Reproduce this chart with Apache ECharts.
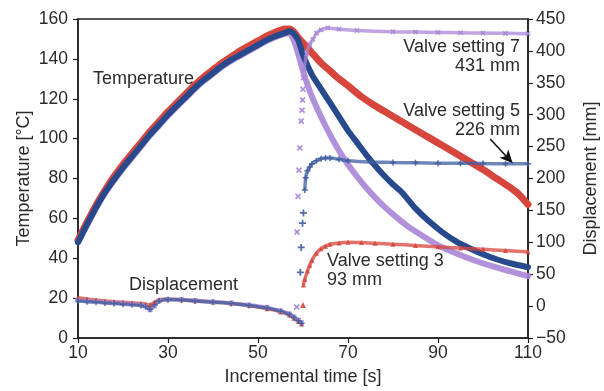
<!DOCTYPE html>
<html>
<head>
<meta charset="utf-8">
<script src="https://cdn.jsdelivr.net/npm/echarts@6/dist/echarts.min.js"></script>
<style>
  html, body { margin: 0; padding: 0; background: #fff; }
  #chart { width: 604px; height: 391px; }
</style>
</head>
<body>
<div id="chart"></div>
<script>
// ---- Temperature (left axis, °C) ----
const tempTimeV3 = [10,12,14,16,18,20,22,24,26,28,30,32,34,36,38,40,42,44,46,48,50,52,54,56,57,58,59,60,62,64,66,68,70,73,76,79,82,85,88,91,94,97,100,103,106,108,110];
const tempV3     = [49,58,66.5,74,81,87,92.5,98,103.5,108.5,113.5,118,122.5,127,131,134.5,138,141,144,146.5,149,151.5,153.5,155,155,153.5,150.5,148,143,138,134,130,126.5,121,116.5,112.5,108.5,104.5,100.5,96.5,92.5,88.5,84.5,80,75.5,72,67];

const tempTimeV5 = [10,12,14,16,18,20,22,24,26,28,30,32,34,36,38,40,42,44,46,48,50,52,54,56,57,58,59,60,62,64,66,68,70,72,74,76,78,80,82,85,88,91,94,97,100,103,106,110];
const tempV5     = [48,57,65.5,73,79.5,85.5,91,96.5,102,107,112,116.5,121,125.5,129.5,133,136.5,139.5,142,144.5,147,149.5,151.5,153,153.8,152.5,149,142,132,125,118,111,104,98,92,86.5,81.5,77,73,65,58.5,53,48.5,45,42,39.5,37.5,35.5];

const tempTimeV7 = [10,12,14,16,18,20,22,24,26,28,30,32,34,36,38,40,42,44,46,48,50,52,54,56,57,58,59,60,61,62,64,66,68,70,72,74,76,78,80,83,86,90,94,98,102,106,110];
const tempV7     = [48,56.5,65,72.5,79,85,90.5,96,101.5,106.5,111.5,116,120.5,125,129,132.5,136,139,141.5,144,146.5,149,151,152.5,153,149,142,134,127,121,111,102,94,87,81,75.5,70.5,66,62,56.5,52,46.5,42.5,39,36,33.5,31];

// ---- Displacement (right axis, mm) : before the valve opens ----
const dispPreTime = [10,12,14,16,18,20,22,24,25,26,27,28,30,33,36,40,44,48,52,55,57,58,59,59.7];
const dispPreV3   = [13,11,9.5,8,7,6,5,4,3,2,6,10,11,10,8.5,6.5,4.5,1,-4,-9,-14,-19,-24,-28];
const dispPreV5   = [8,7,6,5,4,3,2,1,-1,-5,2,8,10,9.5,8,6,4,1,-3,-8,-13,-18,-23,-27];
const dispPreV7   = [9,8,7,6,5,4,3,2,0,-6,0,8,11,10.5,9,7,5,2,-2,-7,-12,-17,-22,-26];

// ---- Displacement : isolated readings while the valve opens ----
const dispJumpTimeV3 = [60.0];
const dispJumpV3     = [1.7];
const dispJumpTimeV5 = [59.4,59.6,59.9,60.1];
const dispJumpV5     = [53,92,130,146];
const dispJumpTimeV7 = [58.6,58.7,58.9,59.1,59.3,59.6,59.8,59.9,60.0,60.1];
const dispJumpV7     = [-1.5,116,172,213,248,290,307,323,340,358];

// ---- Displacement : after the valve opens ----
const dispPostTimeV3 = [60.1,60.4,61,61.5,62,63,64,65,66,68,70,73,76,80,85,90,95,100,105,110];
const dispPostV3     = [33,42,55,64,72,83,90,94,97,99,100,99.5,98.5,97,95,93,91,89,87,85];
const dispPostTimeV5 = [60.4,60.6,61,61.5,62,63,64,65,66,68,70,75,80,85,90,95,100,105,110];
const dispPostV5     = [182,201,212,218,223,228,231,232,232,230,228,226,225,224.5,224,224,223.5,223,223];
const dispPostTimeV7 = [60.2,60.8,61.5,62.2,63,64,65.5,68,72,80,85,90,95,100,105,110];
const dispPostV7     = [370,395,410,418,428,433,436,434,432,430,429.5,429,428.5,428,427.5,427];

// ---- Axis ticks ----
const xTicks = [10,30,50,70,90,110];

const FONT = 'Liberation Sans, Arial, Helvetica, sans-serif';
const INK = '#2b2b2b';
const RED = '#d6463c';
const BLUE = '#284a8c';
const BLUE_MARK = '#3f5f9f';
const PURPLE = '#a886d6';

const PLUS = 'path://M3,0H5V3H8V5H5V8H3V5H0V3H3Z';

const pairs = (ts, vs) => ts.map((t, i) => [t, vs[i]]);

const chart = echarts.init(document.getElementById('chart'), null, { renderer: 'canvas' });

const tempLine = (name, ts, vs, color, width, z, opacity) => ({
  name, type: 'line', yAxisIndex: 0, data: pairs(ts, vs),
  showSymbol: false, smooth: 0.2, z,
  lineStyle: { color, width, opacity: opacity ?? 1, cap: 'round', join: 'round' }
});

const dispLine = (name, ts, vs, color, symbol, size, rotate, z) => ({
  name, type: 'line', yAxisIndex: 1, data: pairs(ts, vs),
  smooth: 0.2, z,
  symbol, symbolSize: size, symbolRotate: rotate || 0, showSymbol: true,
  itemStyle: { color, opacity: 0.9 },
  lineStyle: { color, width: 3.5, opacity: 0.75 }
});

const dispScatter = (name, ts, vs, color, symbol, size, rotate, z) => ({
  name, type: 'scatter', yAxisIndex: 1, data: pairs(ts, vs), z,
  symbol, symbolSize: size, symbolRotate: rotate || 0,
  itemStyle: { color, opacity: 0.9 }
});

const blueAfter = dispLine('Displacement V5 after', dispPostTimeV5, dispPostV5, BLUE_MARK, PLUS, 6, 0, 6);
blueAfter.markLine = {
  silent: true,
  symbol: ['none', 'arrow'],
  symbolSize: [9, 13],
  label: { show: false },
  lineStyle: { color: '#111', width: 1.6, type: 'solid' },
  data: [[{ coord: [101.6, 262] }, { coord: [106.6, 224] }]]
};

const labelFont = '18px ' + FONT;

const option = {
  animation: false,
  backgroundColor: '#fff',
  textStyle: { fontFamily: FONT },
  grid: {
    left: 78, right: 76, top: 19, bottom: 53,
    outerBoundsMode: 'none',
    show: true, borderColor: '#222', borderWidth: 1.5, backgroundColor: 'transparent'
  },
  xAxis: {
    type: 'value', min: 10, max: 110,
    name: 'Incremental time [s]', nameLocation: 'middle', nameGap: 30, nameMoveOverlap: false,
    nameTextStyle: { color: INK, fontSize: 18, fontFamily: FONT },
    axisLine: { show: true, lineStyle: { color: '#222', width: 1.6 } },
    axisTick: { show: true, customValues: xTicks, length: 5, lineStyle: { color: '#222', width: 1.2 } },
    axisLabel: { customValues: xTicks, margin: 6, fontSize: 17.5, color: INK, fontFamily: FONT },
    splitLine: { show: false }
  },
  yAxis: [
    {
      type: 'value', min: 0, max: 160, interval: 20, position: 'left',
      name: 'Temperature [°C]', nameLocation: 'middle', nameGap: 45, nameRotate: 90, nameMoveOverlap: false,
      nameTextStyle: { color: INK, fontSize: 18, fontFamily: FONT },
      axisLine: { show: true, lineStyle: { color: '#222', width: 1.6 } },
      axisTick: { show: true, length: 5, lineStyle: { color: '#222', width: 1.2 } },
      axisLabel: { margin: 10, fontSize: 17.5, color: INK, fontFamily: FONT },
      splitLine: { show: false }
    },
    {
      type: 'value', min: -50, max: 450, interval: 50, position: 'right',
      name: 'Displacement [mm]', nameLocation: 'middle', nameGap: 54, nameRotate: 90, nameMoveOverlap: false,
      nameTextStyle: { color: INK, fontSize: 18, fontFamily: FONT },
      axisLine: { show: true, lineStyle: { color: '#222', width: 1.6 } },
      axisTick: { show: true, length: 5, lineStyle: { color: '#222', width: 1.2 } },
      axisLabel: {
        margin: 8, fontSize: 17.5, color: INK, fontFamily: FONT,
        formatter: v => (v < 0 ? '\u2212' + Math.abs(v) : String(v))
      },
      splitLine: { show: false }
    }
  ],
  series: [
    // displacement before opening (three overlapping bands)
    dispLine('Displacement V3 before', dispPreTime, dispPreV3, RED, 'triangle', 5, 0, 3),
    dispLine('Displacement V7 before', dispPreTime, dispPreV7, PURPLE, PLUS, 6, 45, 3),
    dispLine('Displacement V5 before', dispPreTime, dispPreV5, BLUE_MARK, PLUS, 6, 0, 3),
    // temperatures
    tempLine('Temperature V3', tempTimeV3, tempV3, RED, 7, 4),
    tempLine('Temperature V7', tempTimeV7, tempV7, PURPLE, 6, 5, 0.9),
    tempLine('Temperature V5', tempTimeV5, tempV5, BLUE, 6, 6),
    // displacement while opening
    dispScatter('Displacement V3 opening', dispJumpTimeV3, dispJumpV3, RED, 'triangle', 6, 0, 7),
    dispScatter('Displacement V5 opening', dispJumpTimeV5, dispJumpV5, BLUE_MARK, PLUS, 7, 0, 7),
    dispScatter('Displacement V7 opening', dispJumpTimeV7, dispJumpV7, PURPLE, PLUS, 7, 45, 7),
    // displacement after opening
    dispLine('Displacement V3 after', dispPostTimeV3, dispPostV3, RED, 'triangle', 5, 0, 6),
    blueAfter,
    dispLine('Displacement V7 after', dispPostTimeV7, dispPostV7, PURPLE, PLUS, 6, 45, 6)
  ],
  graphic: [
    { type: 'text', x: 93, y: 79, z: 20, style: { text: 'Temperature', font: labelFont, fill: INK, verticalAlign: 'middle' } },
    { type: 'text', x: 129, y: 285, z: 20, style: { text: 'Displacement', font: labelFont, fill: INK, verticalAlign: 'middle' } },
    { type: 'text', x: 520, y: 38, z: 20, style: { text: 'Valve setting 7\n431 mm', font: labelFont, fill: INK, align: 'right', verticalAlign: 'top', lineHeight: 19 } },
    { type: 'text', x: 520, y: 102, z: 20, style: { text: 'Valve setting 5\n226 mm', font: labelFont, fill: INK, align: 'right', verticalAlign: 'top', lineHeight: 19 } },
    { type: 'text', x: 327, y: 252, z: 20, style: { text: 'Valve setting 3\n93 mm', font: labelFont, fill: INK, align: 'left', verticalAlign: 'top', lineHeight: 19 } }
  ]
};

chart.setOption(option);
</script>
</body>
</html>
